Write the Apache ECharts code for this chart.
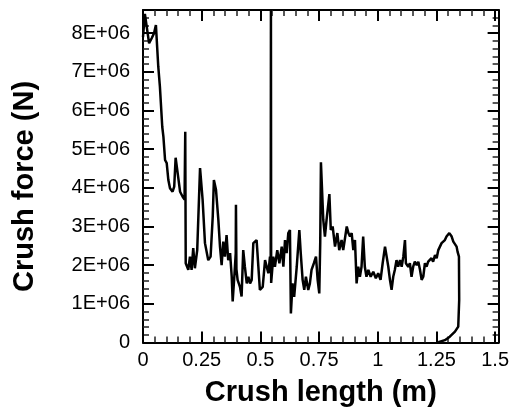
<!DOCTYPE html>
<html>
<head>
<meta charset="utf-8">
<script src="https://cdn.jsdelivr.net/npm/echarts@6/dist/echarts.min.js"></script>
<style>html,body{margin:0;padding:0;background:#fff;}#c{width:512px;height:418px;}</style>
</head>
<body>
<div id="c"></div>
<script>
// Crush length (m)
var crushLength = [
  0, 0.008, 0.016, 0.026, 0.037, 0.047, 0.055, 0.065, 0.072, 0.082, 0.087, 0.094, 0.101, 0.108, 0.115, 0.126, 0.133, 0.139, 0.146, 0.158, 0.169, 0.177,
  0.180, 0.182, 0.193, 0.200, 0.207, 0.214, 0.221, 0.231, 0.243, 0.254, 0.264, 0.278, 0.288, 0.297, 0.302, 0.311, 0.321, 0.328, 0.335, 0.342, 0.349,
  0.356, 0.363, 0.371, 0.378, 0.382, 0.389, 0.395, 0.396, 0.398, 0.403, 0.413, 0.420, 0.427, 0.434, 0.442, 0.449, 0.456, 0.463, 0.470, 0.484, 0.498,
  0.510, 0.520, 0.534, 0.541, 0.544, 0.545, 0.546, 0.555, 0.562, 0.572, 0.581, 0.591, 0.598, 0.605, 0.612, 0.619, 0.626, 0.630, 0.637, 0.644, 0.655,
  0.666, 0.672, 0.680, 0.687, 0.694, 0.704, 0.711, 0.718, 0.728, 0.737, 0.744, 0.751, 0.755, 0.758, 0.768, 0.775, 0.782, 0.794, 0.800, 0.808, 0.818,
  0.828, 0.836, 0.846, 0.853, 0.868, 0.875, 0.882, 0.889, 0.896, 0.903, 0.910, 0.917, 0.924, 0.931, 0.938, 0.945, 0.952, 0.960, 0.970, 0.981, 0.992,
  1.002, 1.012, 1.021, 1.031, 1.038, 1.045, 1.052, 1.059, 1.066, 1.073, 1.080, 1.087, 1.095, 1.102, 1.109, 1.116, 1.120, 1.130, 1.137, 1.144, 1.151,
  1.158, 1.166, 1.173, 1.180, 1.187, 1.194, 1.201, 1.208, 1.215, 1.222, 1.229, 1.236, 1.244, 1.251, 1.258, 1.265, 1.272, 1.279, 1.286, 1.293, 1.305,
  1.315, 1.322, 1.329, 1.336, 1.340, 1.346, 1.347, 1.343, 1.329, 1.307, 1.286, 1.258
];
// Crush force (in units of 1E+06 N)
var crushForce = [
  7.9, 8.5, 8.45, 7.74, 7.87, 8.0, 8.21, 7.14, 6.62, 5.58, 5.32, 4.72, 4.64, 4.2, 3.99, 3.9, 4.03, 4.78, 4.46, 3.9, 3.77, 3.7,
  5.45, 2.05, 1.88, 2.22, 1.88, 2.44, 1.92, 2.39, 4.51, 3.69, 2.57, 2.13, 2.22, 3.25, 4.2, 3.95, 3.17, 2.48, 2.0, 2.61, 2.22,
  2.78, 2.13, 2.31, 1.70, 1.06, 1.70, 2.3, 3.56, 1.9, 1.62, 1.44, 1.19, 2.39, 1.96, 1.53, 1.70, 1.53, 1.62, 2.57, 2.65, 1.36,
  1.44, 2.13, 1.79, 2.22, 1.8, 8.6, 1.54, 2.22, 1.96, 2.39, 2.05, 2.48, 1.96, 2.65, 2.31, 2.83, 2.91, 0.75, 1.53, 1.18, 1.96,
  2.91, 2.31, 1.62, 1.36, 1.70, 1.36, 1.53, 1.88, 2.05, 2.22, 1.62, 1.27, 2.57, 4.66, 3.17, 2.74, 3.17, 3.84, 2.91, 3.0, 2.48,
  2.83, 2.39, 2.65, 2.39, 3.0, 2.83, 2.74, 2.83, 2.39, 2.65, 1.53, 1.96, 1.70, 1.96, 2.74, 1.96, 1.70, 1.88, 1.70, 1.83, 1.66,
  1.79, 1.62, 2.05, 2.48, 2.22, 1.96, 1.62, 1.36, 1.70, 1.88, 2.13, 1.96, 2.13, 1.96, 2.22, 2.65, 2.05, 1.96, 2.05, 1.70, 1.96,
  2.09, 2.0, 2.09, 1.88, 1.62, 1.70, 2.05, 1.96, 2.09, 2.05, 2.18, 2.09, 2.26, 2.18, 2.39, 2.35, 2.57, 2.61, 2.65, 2.74, 2.83,
  2.74, 2.61, 2.57, 2.48, 2.35, 2.22, 1.1, 0.41, 0.28, 0.15, 0.06, 0.005
];
var xTicks = [0, 0.25, 0.5, 0.75, 1, 1.25, 1.5];
var yTicks = [0, 1, 2, 3, 4, 5, 6, 7, 8];

var X_MIN = 0, X_MAX = 1.515, X_STEP = 0.25;
var Y_MIN = 0, Y_MAX = 8.6, Y_STEP = 1;

var pts = crushLength.map(function (x, i) { return [x, crushForce[i]]; });

function isTick(v, list) {
  for (var i = 0; i < list.length; i++) if (Math.abs(list[i] - v) < 1e-6) return true;
  return false;
}

var tickFont = { fontFamily: 'Liberation Sans, Arial, sans-serif', fontSize: 20, color: '#000' };

function xAxisCfg(pos, labels) {
  return {
    type: 'value', position: pos, min: X_MIN, max: X_MAX, interval: X_STEP,
    axisLine: { show: true, onZero: false, lineStyle: { color: '#000', width: 2 } },
    axisTick: { show: true, inside: true, length: 11, lineStyle: { color: '#000', width: 2 } },
    minorTick: { show: true, splitNumber: 5, length: 6, lineStyle: { color: '#222', width: 1.5 } },
    splitLine: { show: false }, minorSplitLine: { show: false },
    axisLabel: labels ? Object.assign({ show: true, margin: 8, showMaxLabel: false,
      formatter: function (v) { return isTick(v, xTicks) ? String(v) : ''; } }, tickFont) : { show: false }
  };
}
function yAxisCfg(pos, labels) {
  return {
    type: 'value', position: pos, min: Y_MIN, max: Y_MAX, interval: Y_STEP,
    axisLine: { show: true, onZero: false, lineStyle: { color: '#000', width: 2 } },
    axisTick: { show: true, inside: true, length: 11, lineStyle: { color: '#000', width: 2 } },
    minorTick: { show: true, splitNumber: 5, length: 6, lineStyle: { color: '#222', width: 1.5 } },
    splitLine: { show: false }, minorSplitLine: { show: false },
    axisLabel: labels ? Object.assign({ show: true, margin: 13, showMaxLabel: false,
      formatter: function (v) { return isTick(v, yTicks) ? (v === 0 ? '0' : v + 'E+06') : ''; } }, tickFont) : { show: false }
  };
}

var chart = echarts.init(document.getElementById('c'), null, { renderer: 'canvas' });
chart.setOption({
  animation: false,
  backgroundColor: '#fff',
  grid: { left: 143, top: 10, right: 12.5, bottom: 75.5, containLabel: false },
  xAxis: [
    Object.assign(xAxisCfg('bottom', true), {
      name: 'Crush length (m)', nameLocation: 'middle', nameGap: 36,
      nameTextStyle: { fontFamily: 'Liberation Sans, Arial, sans-serif', fontWeight: 'bold', fontSize: 29, color: '#000' }
    }),
    xAxisCfg('top', false)
  ],
  yAxis: [yAxisCfg('left', true), yAxisCfg('right', false)],
  graphic: [{
    type: 'text', x: 25, y: 186.5, rotation: Math.PI / 2,
    style: { text: 'Crush force (N)', fill: '#000', align: 'center', verticalAlign: 'middle',
      font: 'bold 29px "Liberation Sans", Arial, sans-serif' }
  }],
  series: [{
    type: 'line', xAxisIndex: 0, yAxisIndex: 0, data: pts,
    showSymbol: false, symbol: 'none', smooth: false,
    lineStyle: { color: '#000', width: 2.5 }, clip: true
  }]
});
</script>
</body>
</html>
